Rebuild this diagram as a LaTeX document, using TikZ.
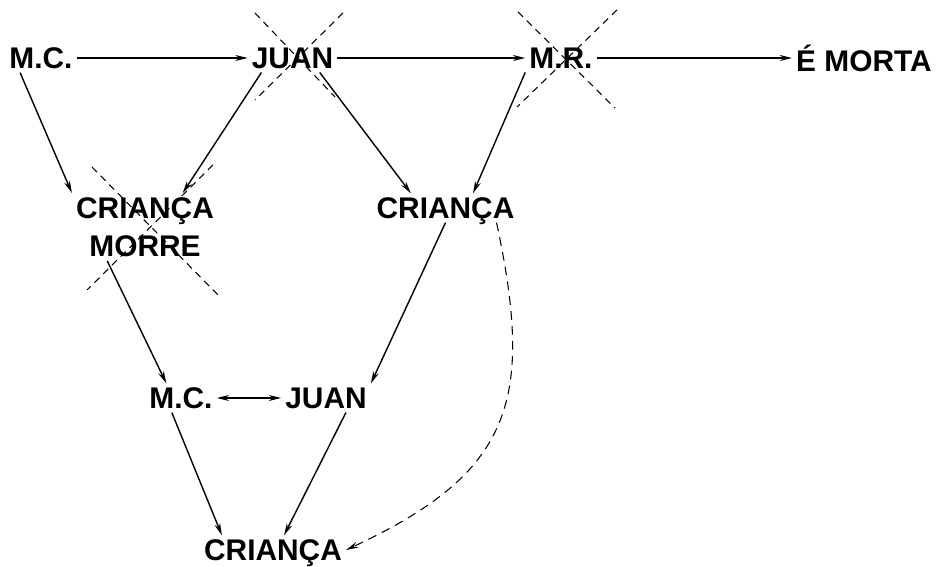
\documentclass[tikz,border=0pt]{standalone}
\usepackage{fontspec}
\setmainfont{Liberation Sans}
\usetikzlibrary{arrows.meta}
\begin{document}
\begin{tikzpicture}[scale=0.2, >={Stealth[length=7pt,width=3.4pt]}, line width=0.8pt,
  every node/.style={font=\fontsize{17}{22}\selectfont\bfseries, inner sep=2pt, text depth=0pt},
  crossout/.style={line width=0.6pt, dash pattern=on 4pt off 3pt},
  link/.style={line width=0.6pt, dash pattern=on 5pt off 3.5pt}]
\useasboundingbox (0,0) rectangle (94.9,56.7);

\node (mc1) at (4.1,50.9) {M.C.};
\node (juan1) at (29.25,50.9) {JUAN};
\node (mr) at (56.1,50.9) {M.R.};
\node[anchor=west] (morta) at (79.2,50.9) {É MORTA};

\node[align=center] (morre) at (14.5,34.0) {CRIANÇA\\MORRE};
\node (crianca) at (44.55,35.9) {CRIANÇA};

\node (mc2) at (18.1,16.9) {M.C.};
\node (juan2) at (32.6,16.9) {JUAN};
\node (crianca3) at (27.3,1.7) {CRIANÇA};

\draw[->] (mc1.east) to (juan1.west);
\draw[->] (juan1.east) to (mr.west);
\draw[->] (mr.east) to (morta.west);
\draw[->] (mc1.215) to (morre.north west);
\draw[->] (juan1.205) to (morre.42);
\draw[->] (juan1.-28) to (crianca.157);
\draw[->] (mr.202) to (crianca.28);

%%% lower part
\draw[->] (morre.222) to (mc2.135);
\draw[->] (crianca.south) to (juan2.north east);
\draw[<->] (mc2.east) to (juan2.west);
\draw[->] (mc2.238) to (crianca3.164);
\draw[->] (juan2.-36) to (crianca3.53);
\draw[->, link] (crianca.-16) to[out=-78, in=25, looseness=1.3] (crianca3.east);

%%% crossed out
\draw[crossout] (25.5,55.4) to (33.5,47.0);
\draw[crossout] (34.3,55.4) to (25.5,46.7);
\draw[crossout] (51.8,55.5) to (61.5,45.9);
\draw[crossout] (61.7,55.7) to (51.7,46.0);
\draw[crossout] (9.2,40.0) to (22.0,27.0);
\draw[crossout] (21.3,40.2) to (8.7,27.7);
\end{tikzpicture}
\end{document}
